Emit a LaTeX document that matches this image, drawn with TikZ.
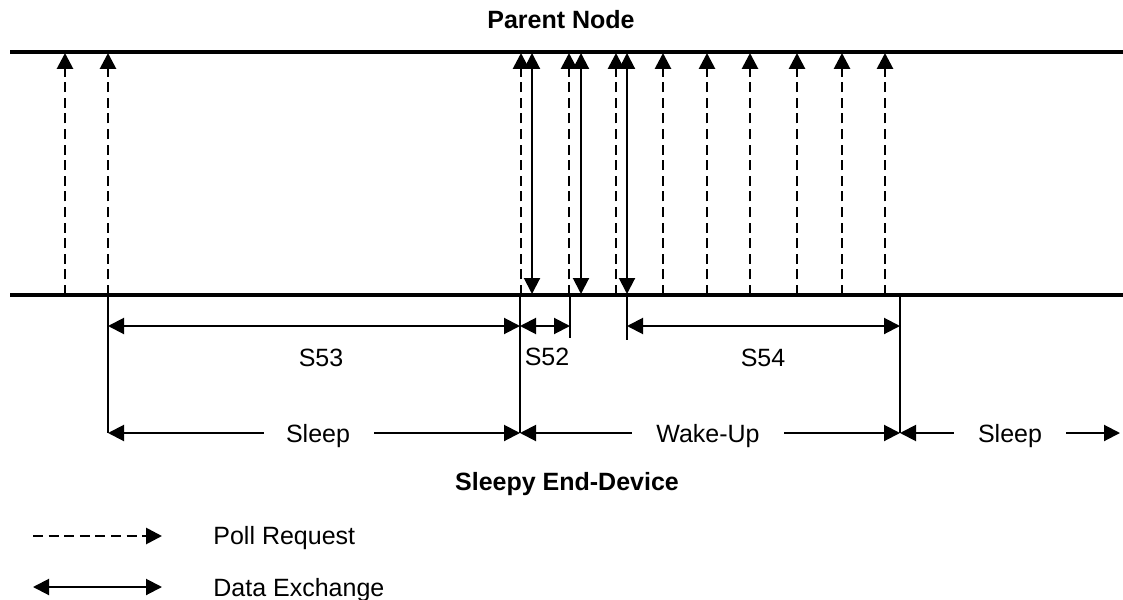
\documentclass[tikz,border=0pt]{standalone}
\usepackage{fontspec}
\setmainfont{Liberation Sans}
\usetikzlibrary{arrows.meta}

\tikzset{
  bus/.style={line width=1.6pt},
  poll/.style={line width=1.4pt, dash pattern=on 5pt off 2.8pt, -{Triangle[length=8pt,width=8pt]}},
  dex/.style={line width=1pt, {Triangle[length=8pt,width=8pt]}-{Triangle[length=8pt,width=8pt]}},
  tip/.style={line width=1pt, -{Triangle[length=8pt,width=8pt]}},
  tick/.style={line width=1pt},
  lbl/.style={inner sep=0pt, text height=9pt, text depth=0pt},
  title/.style={lbl, font=\fontsize{12.5}{15}\selectfont\bfseries}
}

\begin{document}
\begin{tikzpicture}[x=0.5pt, y=-0.5pt, font=\fontsize{12.5}{15}\selectfont]
    \useasboundingbox (0,0) rectangle (1123,599);

    % the two time lines
    \node(parent)[title] at (561,20) {Parent Node};
    \node(sed)[title] at (567,481) {Sleepy End-Device};
    \coordinate(topL) at (10,52);
    \coordinate(topR) at (1123,52);
    \coordinate(botL) at (10,295);
    \coordinate(botR) at (1123,295);
    \draw[bus] (topL) -- (topR);
    \draw[bus] (botL) -- (botR);

    % poll requests
    \draw[poll] (65,295) coordinate(p1b) -- (65,53) coordinate(p1t);
    \draw[poll] (108,295) coordinate(p2b) -- (108,53) coordinate(p2t);
    \draw[poll] (521,295) coordinate(p3b) -- (521,53) coordinate(p3t);
    \draw[poll] (569,295) coordinate(p4b) -- (569,53) coordinate(p4t);
    \draw[poll] (616,295) coordinate(p5b) -- (616,53) coordinate(p5t);
    \draw[poll] (663,295) coordinate(p6b) -- (663,53) coordinate(p6t);
    \draw[poll] (707,295) coordinate(p7b) -- (707,53) coordinate(p7t);
    \draw[poll] (750,295) coordinate(p8b) -- (750,53) coordinate(p8t);
    \draw[poll] (797,295) coordinate(p9b) -- (797,53) coordinate(p9t);
    \draw[poll] (842,295) coordinate(p10b) -- (842,53) coordinate(p10t);
    \draw[poll] (885,295) coordinate(p11b) -- (885,53) coordinate(p11t);

    % data exchange
    \draw[dex] (532,53) coordinate(d1t) -- (532,294) coordinate(d1b);
    \draw[dex] (581,53) coordinate(d2t) -- (581,294) coordinate(d2b);
    \draw[dex] (627,53) coordinate(d3t) -- (627,294) coordinate(d3b);

    % marks below the device line
    \coordinate(m1) at (108,433);
    \coordinate(m2) at (520,433);
    \coordinate(m3) at (570,338);
    \coordinate(m4) at (627,340);
    \coordinate(m5) at (900,433);
    \coordinate(m6) at (1120,433);
    \draw[tick] (p2b) -- (m1);
    \draw[tick] (520,295) -- (m2);
    \draw[tick] (570,295) -- (m3);
    \draw[tick] (d3b) -- (m4);
    \draw[tick] (900,295) -- (m5);

    % S53, S52, S54
    \draw[dex] (108,326) coordinate(s53a) -- (520,326) coordinate(s53b);
    \draw[dex] (520,326) coordinate(s52a) -- (570,326) coordinate(s52b);
    \draw[dex] (627,326) coordinate(s54a) -- (900,326) coordinate(s54b);
    \node(S53)[lbl] at (321,357) {S53};
    \node(S52)[lbl] at (547,356) {S52};
    \node(S54)[lbl] at (763,357) {S54};

    % sleep / wake-up
    \node(sleep1)[lbl] at (318,433) {Sleep};
    \node(wake)[lbl] at (708,433) {Wake-Up};
    \node(sleep2)[lbl] at (1010,433) {Sleep};
    \draw[tip] ([xshift=-11pt]sleep1.west) -- (m1);
    \draw[tip] ([xshift=12pt]sleep1.east) -- (m2);
    \draw[tip] ([xshift=-12pt]wake.west) -- (m2);
    \draw[tip] ([xshift=12pt]wake.east) -- (m5);
    \draw[tip] ([xshift=-12pt]sleep2.west) -- (m5);
    \draw[tip] ([xshift=12pt]sleep2.east) -- (m6);

    % legend
    \node(pollL)[lbl, anchor=west] at (213,535) {Poll Request};
    \node(dexL)[lbl, anchor=west] at (213,587) {Data Exchange};
    \draw[poll] (33,536) coordinate(l1a) -- (162,536) coordinate(l1b);
    \draw[dex] (33,587) coordinate(l2a) -- (162,587) coordinate(l2b);
\end{tikzpicture}
\end{document}
